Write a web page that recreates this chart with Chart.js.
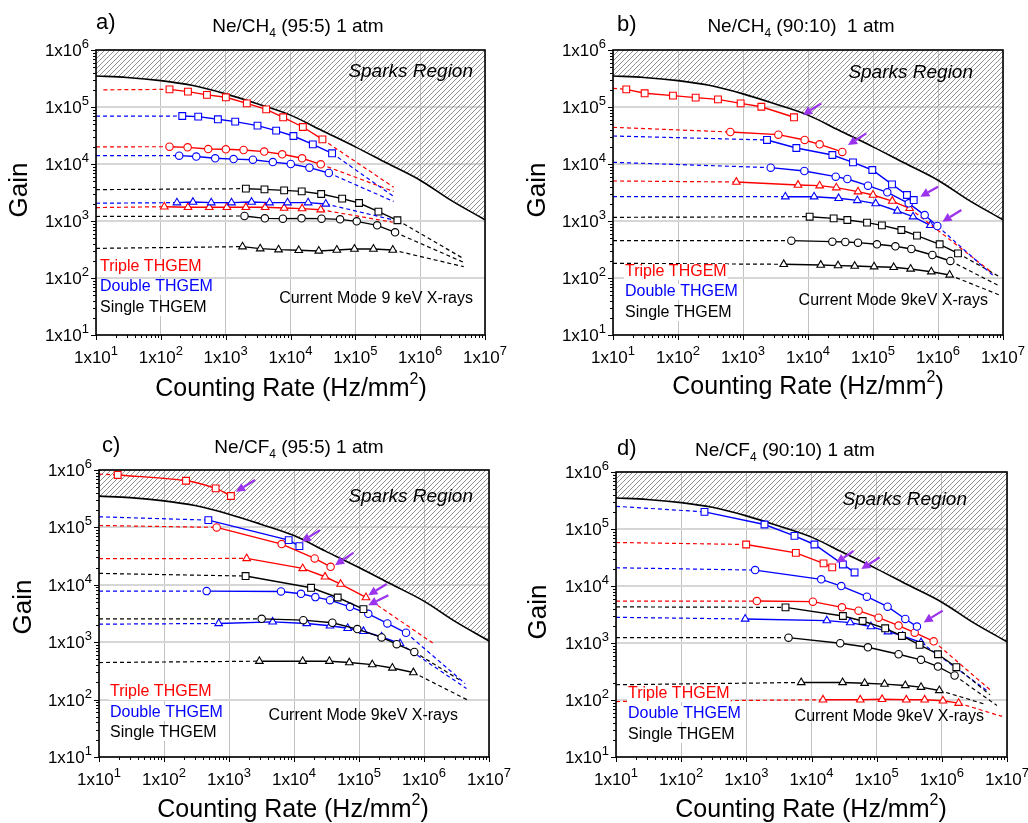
<!DOCTYPE html>
<html>
<head>
<meta charset="utf-8">
<title>Gain vs counting rate</title>
<script src="https://cdn.jsdelivr.net/npm/chart.js@4.4.1/dist/chart.umd.min.js"></script>
<style>
  html, body { margin: 0; padding: 0; background: #fff; }
  #wrap { position: relative; width: 1028px; height: 823px; overflow: hidden; }
  canvas { position: absolute; }
</style>
</head>
<body>
<div id="wrap">
  <canvas id="pa" width="514" height="411" style="left:0;top:0"></canvas>
  <canvas id="pb" width="514" height="411" style="left:514px;top:0"></canvas>
  <canvas id="pc" width="514" height="412" style="left:0;top:411px"></canvas>
  <canvas id="pd" width="514" height="412" style="left:514px;top:411px"></canvas>
</div>
<script>
// axes
const xDecades = [1e1, 1e2, 1e3, 1e4, 1e5, 1e6, 1e7];
const xExps = [1, 2, 3, 4, 5, 6, 7];
const yDecades = [1e1, 1e2, 1e3, 1e4, 1e5, 1e6];
const yExps = [1, 2, 3, 4, 5, 6];

// spark limit (same in all panels)
const sparkRate = [10, 30, 100, 300, 1e3, 3e3, 1e4, 3e4, 1e5, 3e5, 1e6, 3e6, 1e7];
const sparkGain = [3.5e5, 3.3e5, 2.9e5, 2.4e5, 1.7e5, 1.15e5, 7.2e4, 3.9e4, 2.0e4, 1.05e4, 5.2e3, 2.3e3, 1.05e3];

// a) Ne/CH4 (95:5)   [rate, gain]; *Dash = [left start, right end]
const aTriSq = [[136,2.04e5],[262,1.86e5],[514,1.63e5],[1007,1.48e5],[2120,1.16e5],[4220,9.1e4],[7710,6.6e4],[15500,4.46e4],[31100,2.71e4]];
const aTriSqDash = [[13,2.0e5],[3.9e5,3900]];
const aDblSq = [[214,6.95e4],[377,6.77e4],[759,6.08e4],[1403,5.53e4],[3100,4.71e4],[6010,3.85e4],[11100,3.1e4],[22100,2.21e4],[43800,1.54e4]];
const aDblSqDash = [[10,6.9e4],[3.9e5,2700]];
const aTriCi = [[136,2.01e4],[259,1.96e4],[538,1.83e4],[1007,1.81e4],[1890,1.76e4],[3930,1.65e4],[7450,1.48e4],[15100,1.26e4],[29300,9860]];
const aTriCiDash = [[10,2.0e4],[3.9e5,3300]];
const aDblCi = [[192,1.40e4],[352,1.35e4],[690,1.26e4],[1325,1.22e4],[2630,1.19e4],[5340,1.08e4],[10100,1.0e4],[19600,8630],[39000,6950]];
const aDblCiDash = [[10,1.4e4],[3.9e5,2200]];
const aSglSq = [[2050,3690],[3970,3590],[7980,3450],[14900,3310],[29700,2980],[62600,2470],[114000,2070],[227000,1460],[446000,1030]];
const aSglSqDash = [[10,3550],[4.6e6,221]];
const aDblTr = [[177,2100],[313,2150],[599,2100],[1230,2100],[2510,2150],[4750,2100],[8990,2100],[18700,2100],[35000,1990]];
const aDblTrDash = [[10,2050],[3.8e5,1050]];
const aTriTr = [[113,1780],[262,1740],[558,1740],[1045,1740],[2050,1740],[4070,1740],[7980,1690],[15100,1650],[29300,1580]];
const aTriTrDash = [[10,1720],[3.8e5,950]];
const aSglCi = [[1950,1225],[4020,1114],[7620,1100],[14800,1114],[30100,1100],[58200,1070],[105000,986],[217000,839],[410000,633]];
const aSglCiDash = [[10,1200],[4.7e6,188]];
const aSglTr = [[1820,355],[3410,327],[6540,314],[13400,306],[27300,298],[51800,310],[96900,323],[190000,323],[378000,310]];
const aSglTrDash = [[10,331],[4.7e6,158]];

// b) Ne/CH4 (90:10)
const bTriSq = [[16,2.04e5],[30.7,1.74e5],[83.7,1.58e5],[187,1.46e5],[412,1.36e5],[920,1.16e5],[1915,1.01e5],[6090,6.6e4]];
const bTriSqDash = [[10,2.12e5],null];
const bTriCi = [[638,3.64e4],[3500,3.27e4],[8890,2.64e4],[15100,2.21e4],[33700,1.63e4]];
const bTriCiDash = [[10,4.4e4],null];
const bDblSq = [[2340,2.64e4],[6620,1.91e4],[23700,1.44e4],[49200,1.07e4],[97600,7850],[196000,4400],[333000,2860],[423000,2330]];
const bDblSqDash = [[10,3.1e4],null];
const bDblCi = [[2670,8630],[8790,7540],[26700,6000],[40300,5460],[83700,4170],[166000,3190],[354000,2040],[624000,1270],[977000,817]];
const bDblCiDash = [[10,1.07e4],[7.4e6,105]];
const bTriTr = [[789,4830],[7020,4280],[15100,4170],[27300,3850],[58800,3270],[100000,2860],[198000,2240],[366000,1670]];
const bTriTrDash = [[10,5040],[7.0e6,121]];
const bDblTr = [[4480,2670],[12400,2670],[29600,2500],[57400,2300],[110000,2020],[237000,1500],[413000,1190],[762000,839]];
const bDblTrDash = [[10,2670],null];
const bSglSq = [[10600,1190],[24800,1110],[40300,1040],[80900,936],[137000,839],[273000,695],[475000,553],[1060000,390],[2030000,271]];
const bSglSqDash = [[10,1160],[8.9e6,105]];
const bSglCi = [[5540,452],[23700,434],[37500,428],[58800,417],[115000,390],[221000,360],[389000,323],[819000,253],[1550000,199]];
const bSglCiDash = [[10,452],[8.9e6,72]];
const bSglTr = [[4230,174],[15700,169],[29000,165],[52300,162],[104000,158],[208000,154],[379000,144],[789000,129],[1510000,113]];
const bSglTrDash = [[10,181],[8.9e6,50]];

// c) Ne/CF4 (95:5)
const cTriSq = [[19.4,8.2e5],[218,6.5e5],[623,4.79e5],[1070,3.52e5]];
const cTriSqDash = [[10,8.5e5],null];
const cDblSq = [[481,1.34e5],[8280,6.0e4],[12100,4.72e4]];
const cDblSqDash = [[10,1.53e5],null];
const cTriCi = [[646,1.0e5],[6460,5.12e4],[20800,2.88e4],[36600,2.06e4]];
const cTriCiDash = [[10,1.08e5],null];
const cTriTr = [[1870,2.88e4],[13600,1.93e4],[30000,1.38e4],[52200,1.03e4],[128000,6010]];
const cTriTrDash = [[10,2.85e4],[1.36e6,972]];
const cSglSq = [[1800,1.42e4],[18300,8870],[47000,6010],[117000,3770]];
const cSglSqDash = [[10,1.58e4],null];
const cDblCi = [[453,7760],[6310,7660],[12800,6970],[21300,6100],[35800,5400],[72700,4130],[139000,3120],[273000,2120],[529000,1460]];
const cDblCiDash = [[10,7760],[4.3e6,190]];
const cSglCi = [[3180,2550],[13900,2420],[38900,2180],[94200,1690],[223000,1210],[380000,922],[710000,678]];
const cSglCiDash = [[10,2550],[3.6e6,217]];
const cDblTr = [[693,2120],[4700,2260],[15700,2120],[35800,1930],[67000,1750],[117000,1550],[223000,1240],[428000,948]];
const cDblTrDash = [[10,2060],[4.5e6,156]];
const cSglTr = [[2930,467],[13600,467],[35000,467],[71000,442],[160000,407],[326000,356],[686000,296]];
const cSglTrDash = [[10,442],[4.8e6,97]];

// d) Ne/CF4 (90:10)
const dDblSq = [[228,2.0e5],[1900,1.2e5],[5480,7.58e4],[11100,5.35e4],[30300,2.39e4],[45800,1.73e4]];
const dDblSqDash = [[10,2.5e5],null];
const dTriSq = [[993,5.35e4],[5750,3.82e4],[15300,2.49e4],[20800,2.12e4]];
const dTriSqDash = [[10,5.8e4],null];
const dDblCi = [[1365,1.9e4],[14100,1.31e4],[28600,9980],[70800,6490],[147000,4330],[275000,2640],[415000,1940]];
const dDblCiDash = [[10,2.09e4],null];
const dTriCi = [[1450,5450],[10500,5310],[29300,4220],[52700,3690],[107000,2780],[217000,2020],[383000,1520],[750000,1070]];
const dTriCiDash = [[10,5450],[5.5e6,151]];
const dSglSq = [[3990,4220],[30300,2980],[60800,2430],[135000,1810],[244000,1330],[456000,925],[873000,635],[1670000,376]];
const dSglSqDash = [[10,4300],[5.5e6,123]];
const dDblTr = [[960,2640],[17200,2470],[39300,2280],[81700,1940],[149000,1580],[250000,1330],[479000,1020]];
const dDblTrDash = [[10,2820],[5.2e6,140]];
const dSglCi = [[4440,1240],[27600,989],[73400,841],[217000,635],[479000,506],[873000,386],[1570000,269]];
const dSglCiDash = [[10,1240],[7.0e6,80]];
const dSglTr = [[6950,203],[30000,203],[65300,197],[132000,190],[275000,180],[479000,168],[916000,147]];
const dSglTrDash = [[10,185],[4.5e6,85]];
const dTriTr = [[15000,101],[56000,101],[121000,103],[285000,101],[545000,101],[1040000,96.8],[1810000,88]];
const dTriTrDash = [[10,94],[8.4e6,51.5]];

// arrows [tailRate, tailGain, tipRate, tipGain]
const bArrows = [[16000,1.16e5,8380,7.24e4],[78900,3.45e4,41200,2.15e4],[1e6,4000,535000,2670],[2.29e6,1560,1.17e6,973]];
const cArrows = [[2510,6.7e5,1280,4.19e5],[25100,8.97e4,13100,5.62e4],[81800,3.61e4,42800,2.2e4],[267000,1.03e4,139000,6600],[283000,6600,139000,4420]];
const dArrows = [[44300,4.14e4,23900,2.55e4],[111000,3.17e4,58000,1.98e4],[1.03e6,3690,526000,2300]];

const RED = '#ff0000', BLUE = '#0000ff', BLACK = '#000000', PURPLE = '#9a32ee';
const FONT = '"Liberation Sans", Arial, Helvetica, sans-serif';
const markerSize = { rect: 4.8, circle: 3.7, triangle: 4.4 };

// hatch pattern for the sparks region
function makeHatch() {
  const t = document.createElement('canvas');
  t.width = 5; t.height = 5;
  const c = t.getContext('2d');
  c.strokeStyle = '#858585';
  c.lineWidth = 0.9;
  c.beginPath();
  c.moveTo(0, 5); c.lineTo(5, 0);
  c.moveTo(-1, 1); c.lineTo(1, -1);
  c.moveTo(4, 6); c.lineTo(6, 4);
  c.stroke();
  return c.createPattern(t, 'repeat');
}

function toXY(pts) { return pts.map(p => ({ x: p[0], y: p[1] })); }

// datasets in drawing order (first = bottom)
function seriesSets(pts, dash, color, marker, tension) {
  const pt = toXY(pts);
  const dashed = { showLine: true, borderColor: color, borderWidth: 1.2, borderDash: [4, 3], pointRadius: 0, fill: false };
  const out = [];
  if (dash[0]) out.push({ ...dashed, data: [{ x: dash[0][0], y: dash[0][1] }, pt[0]] });
  if (dash[1]) out.push({ ...dashed, data: [pt[pt.length - 1], { x: dash[1][0], y: dash[1][1] }] });
  out.push({
    showLine: true, data: pt, borderColor: color, borderWidth: 1.4, tension: tension || 0,
    pointStyle: marker, pointRadius: markerSize[marker], pointBorderWidth: 1.1,
    pointBorderColor: color, pointBackgroundColor: '#ffffff', fill: false
  });
  return out;
}

function drawRich(ctx, parts, x, y, align) {
  // parts: [text, size, dy]
  let w = 0;
  parts.forEach(p => { ctx.font = p[1] + 'px ' + FONT; w += ctx.measureText(p[0]).width; });
  let cx = align === 'center' ? x - w / 2 : align === 'right' ? x - w : x;
  ctx.textAlign = 'left';
  ctx.textBaseline = 'alphabetic';
  parts.forEach(p => {
    ctx.font = p[1] + 'px ' + FONT;
    ctx.fillText(p[0], cx, y + p[2]);
    cx += ctx.measureText(p[0]).width;
  });
}

function arrow(ctx, x1, y1, x2, y2) {
  const ang = Math.atan2(y2 - y1, x2 - x1);
  const hl = 9, hw = 4.5;
  const bx = x2 - hl * Math.cos(ang), by = y2 - hl * Math.sin(ang);
  ctx.strokeStyle = PURPLE; ctx.fillStyle = PURPLE; ctx.lineWidth = 2.2;
  ctx.beginPath(); ctx.moveTo(x1, y1); ctx.lineTo(bx, by); ctx.stroke();
  ctx.beginPath();
  ctx.moveTo(x2, y2);
  ctx.lineTo(bx + hw * Math.sin(ang), by - hw * Math.cos(ang));
  ctx.lineTo(bx - hw * Math.sin(ang), by + hw * Math.cos(ang));
  ctx.closePath(); ctx.fill();
}

function makeDecor(p) {
  return {
    id: 'decor',
    afterDraw(chart) {
      const { ctx, chartArea: a, scales: { x, y } } = chart;
      ctx.save();
      // arrows
      (p.arrows || []).forEach(r => arrow(ctx, x.getPixelForValue(r[0]), y.getPixelForValue(r[1]), x.getPixelForValue(r[2]), y.getPixelForValue(r[3])));
      // frame
      ctx.strokeStyle = '#000'; ctx.lineWidth = 1.6;
      ctx.strokeRect(a.left, a.top, a.right - a.left, a.bottom - a.top);
      // ticks, outward
      ctx.lineWidth = 1;
      ctx.beginPath();
      xDecades.forEach(d => {
        const px = Math.round(x.getPixelForValue(d)) + 0.5;
        ctx.moveTo(px, a.bottom); ctx.lineTo(px, a.bottom + 5);
        if (d < 1e7) for (let k = 2; k < 10; k++) {
          const q = Math.round(x.getPixelForValue(d * k)) + 0.5;
          ctx.moveTo(q, a.bottom); ctx.lineTo(q, a.bottom + 3);
        }
      });
      yDecades.forEach(d => {
        const py = Math.round(y.getPixelForValue(d)) + 0.5;
        ctx.moveTo(a.left, py); ctx.lineTo(a.left - 5, py);
        if (d < 1e6) for (let k = 2; k < 10; k++) {
          const q = Math.round(y.getPixelForValue(d * k)) + 0.5;
          ctx.moveTo(a.left, q); ctx.lineTo(a.left - 3, q);
        }
      });
      ctx.stroke();
      // tick labels
      ctx.fillStyle = '#000';
      xDecades.forEach((d, i) => drawRich(ctx, [['1x10', 17, 0], [String(xExps[i]), 13, -8]], x.getPixelForValue(d), a.bottom + 28, 'center'));
      yDecades.forEach((d, i) => drawRich(ctx, [['1x10', 17, 0], [String(yExps[i]), 13, -8]], a.left - 7, y.getPixelForValue(d) + 6, 'right'));
      // axis titles
      drawRich(ctx, [['Counting Rate (Hz/mm', 25, 0], ['2', 16, -12], [')', 25, 0]], p.xTitle[0], p.xTitle[1] + 9, 'center');
      ctx.save();
      ctx.translate(p.gain[0], p.gain[1]);
      ctx.rotate(-Math.PI / 2);
      ctx.font = '26px ' + FONT; ctx.textAlign = 'center'; ctx.textBaseline = 'middle';
      ctx.fillText('Gain', 0, 0);
      ctx.restore();
      // panel tag and title
      ctx.font = '22px ' + FONT; ctx.textAlign = 'left'; ctx.textBaseline = 'middle';
      ctx.fillText(p.tag, p.tagPos[0], p.tagPos[1]);
      drawRich(ctx, [[p.gas, 19, 0], ['4', 12, 5], [p.mix, 19, 0]], p.title[0], p.title[1] + 7, 'center');
      // sparks region
      ctx.font = 'italic 19px ' + FONT; ctx.textAlign = 'right'; ctx.textBaseline = 'middle';
      ctx.fillText('Sparks Region', p.sparks[0], p.sparks[1]);
      // legend text
      ctx.font = '16px ' + FONT; ctx.textAlign = 'left'; ctx.textBaseline = 'middle';
      [['Triple THGEM', RED], ['Double THGEM', BLUE], ['Single THGEM', BLACK]].forEach((t, i) => {
        const w = ctx.measureText(t[0]).width;
        ctx.fillStyle = '#fff';
        ctx.fillRect(p.legend[0] - 1, p.legend[i + 1] - 8, w + 2, 16);
        ctx.fillStyle = t[1];
        ctx.fillText(t[0], p.legend[0], p.legend[i + 1]);
      });
      ctx.fillStyle = '#000'; ctx.textAlign = 'right';
      ctx.fillText(p.note, p.notePos[0], p.notePos[1]);
      ctx.restore();
    }
  };
}

function build(p) {
  const hatch = makeHatch();
  let sets = [{
    showLine: true, data: sparkRate.map((r, i) => ({ x: r, y: sparkGain[i] })),
    borderColor: '#000', borderWidth: 1.6, pointRadius: 0, fill: 'end',
    backgroundColor: hatch, cubicInterpolationMode: 'monotone'
  }];
  p.series.forEach(s => { sets = sets.concat(seriesSets(s[0], s[1], s[2], s[3], s[4])); });
  sets.reverse();
  new Chart(document.getElementById(p.id), {
    type: 'scatter',
    data: { datasets: sets },
    options: {
      responsive: false, animation: false, events: [],
      layout: { padding: p.pad },
      plugins: { legend: { display: false }, tooltip: { enabled: false } },
      scales: {
        x: {
          type: 'logarithmic', min: 10, max: 1e7,
          afterBuildTicks: s => { s.ticks = xDecades.map(v => ({ value: v })); },
          ticks: { display: false },
          grid: { color: '#c2c2c2', lineWidth: 1, drawTicks: false },
          border: { display: false }
        },
        y: {
          type: 'logarithmic', min: 10, max: 1e6,
          afterBuildTicks: s => { s.ticks = yDecades.map(v => ({ value: v })); },
          ticks: { display: false },
          grid: { color: '#d6d6d6', lineWidth: 2, drawTicks: false },
          border: { display: false }
        }
      }
    },
    plugins: [makeDecor(p)]
  });
}

build({
  id: 'pa', tag: 'a)', gas: 'Ne/CH', mix: ' (95:5) 1 atm', note: 'Current Mode 9 keV X-rays',
  pad: { left: 96, right: 29, top: 50, bottom: 76 },
  tagPos: [96, 23], title: [298, 25], gain: [20, 190], xTitle: [291, 387],
  sparks: [473, 72], legend: [100, 267, 287, 308], notePos: [473, 299],
  series: [
    [aSglTr, aSglTrDash, BLACK, 'triangle'], [aSglCi, aSglCiDash, BLACK, 'circle'], [aSglSq, aSglSqDash, BLACK, 'rect'],
    [aTriTr, aTriTrDash, RED, 'triangle'], [aDblTr, aDblTrDash, BLUE, 'triangle'],
    [aDblCi, aDblCiDash, BLUE, 'circle'], [aTriCi, aTriCiDash, RED, 'circle'],
    [aDblSq, aDblSqDash, BLUE, 'rect'], [aTriSq, aTriSqDash, RED, 'rect']
  ]
});

build({
  id: 'pb', tag: 'b)', gas: 'Ne/CH', mix: ' (90:10)  1 atm', note: 'Current Mode 9keV X-rays',
  pad: { left: 99, right: 25, top: 50, bottom: 76 },
  tagPos: [103, 25], title: [287, 25], gain: [24, 190], xTitle: [294, 385],
  sparks: [459, 73], legend: [111, 272, 292, 313], notePos: [474, 301],
  arrows: bArrows,
  series: [
    [bSglTr, bSglTrDash, BLACK, 'triangle'], [bSglCi, bSglCiDash, BLACK, 'circle'], [bSglSq, bSglSqDash, BLACK, 'rect'],
    [bDblTr, bDblTrDash, BLUE, 'triangle'], [bTriTr, bTriTrDash, RED, 'triangle'],
    [bDblCi, bDblCiDash, BLUE, 'circle'], [bDblSq, bDblSqDash, BLUE, 'rect'],
    [bTriCi, bTriCiDash, RED, 'circle'], [bTriSq, bTriSqDash, RED, 'rect']
  ]
});

build({
  id: 'pc', tag: 'c)', gas: 'Ne/CF', mix: ' (95:5) 1 atm', note: 'Current Mode 9keV X-rays',
  pad: { left: 99, right: 25, top: 59, bottom: 66 },
  tagPos: [102, 35], title: [299, 35], gain: [24, 196], xTitle: [293, 397],
  sparks: [473, 86], legend: [110, 281, 302, 322], notePos: [458, 305],
  arrows: cArrows,
  series: [
    [cSglTr, cSglTrDash, BLACK, 'triangle'], [cDblTr, cDblTrDash, BLUE, 'triangle'], [cSglCi, cSglCiDash, BLACK, 'circle'],
    [cDblCi, cDblCiDash, BLUE, 'circle'], [cSglSq, cSglSqDash, BLACK, 'rect'],
    [cTriTr, cTriTrDash, RED, 'triangle'], [cTriCi, cTriCiDash, RED, 'circle'],
    [cDblSq, cDblSqDash, BLUE, 'rect'], [cTriSq, cTriSqDash, RED, 'rect', 0.35]
  ]
});

build({
  id: 'pd', tag: 'd)', gas: 'Ne/CF', mix: ' (90:10) 1 atm', note: 'Current Mode 9keV X-rays',
  pad: { left: 102, right: 21, top: 61, bottom: 66 },
  tagPos: [103, 38], title: [271, 38], gain: [25, 201], xTitle: [297, 397],
  sparks: [453, 89], legend: [114, 283, 303, 324], notePos: [470, 306],
  arrows: dArrows,
  series: [
    [dTriTr, dTriTrDash, RED, 'triangle'], [dSglTr, dSglTrDash, BLACK, 'triangle'], [dSglCi, dSglCiDash, BLACK, 'circle'],
    [dDblTr, dDblTrDash, BLUE, 'triangle'], [dSglSq, dSglSqDash, BLACK, 'rect'],
    [dTriCi, dTriCiDash, RED, 'circle'], [dDblCi, dDblCiDash, BLUE, 'circle'],
    [dTriSq, dTriSqDash, RED, 'rect'], [dDblSq, dDblSqDash, BLUE, 'rect']
  ]
});
</script>
</body>
</html>
